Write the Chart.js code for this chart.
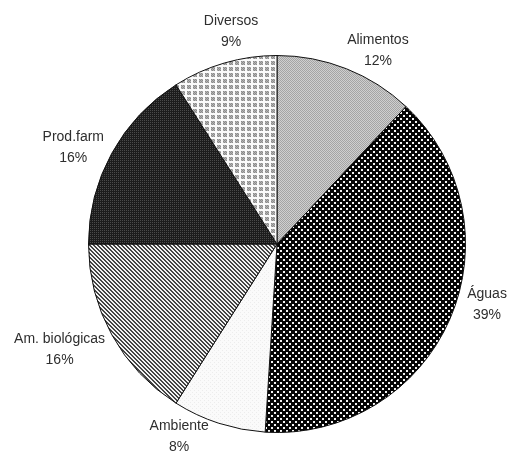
<!DOCTYPE html>
<html>
<head>
<meta charset="utf-8">
<script src="https://cdn.jsdelivr.net/npm/chart.js@4"></script>
<style>
  html, body { margin: 0; padding: 0; background: #fff; }
  #wrap { width: 508px; height: 452px; }
</style>
</head>
<body>
<div id="wrap"><canvas id="pieChart" width="508" height="452"></canvas></div>
<script>
// dados
const categorias = ['Alimentos', 'Águas', 'Ambiente', 'Am. biológicas', 'Prod.farm', 'Diversos'];
const percentagens = [12, 39, 8, 16, 16, 9];

// pequenos padrões de preenchimento (tramas)
function padrao(w, h, desenha) {
    const c = document.createElement('canvas');
    c.width = w; c.height = h;
    const g = c.getContext('2d');
    desenha(g);
    return g.createPattern(c, 'repeat');
}

const tramas = [
    // Alimentos - cinzento claro pontilhado
    padrao(2, 2, g => {
        g.fillStyle = '#cfcfcf'; g.fillRect(0, 0, 2, 2);
        g.fillStyle = '#a4a4a4'; g.fillRect(0, 0, 1, 1); g.fillRect(1, 1, 1, 1);
    }),
    // Águas - preto com pontos brancos
    padrao(6, 6, g => {
        g.fillStyle = '#050505'; g.fillRect(0, 0, 6, 6);
        g.fillStyle = '#f4f4f4'; g.fillRect(1, 1, 2, 2); g.fillRect(4, 4, 2, 2);
    }),
    // Ambiente - quase branco
    padrao(4, 4, g => {
        g.fillStyle = '#fafafa'; g.fillRect(0, 0, 4, 4);
        g.fillStyle = '#ececec'; g.fillRect(0, 0, 1, 1); g.fillRect(2, 2, 1, 1);
    }),
    // Am. biológicas - riscas diagonais
    padrao(4, 4, g => {
        g.fillStyle = '#f2f2f2'; g.fillRect(0, 0, 4, 4);
        g.fillStyle = '#444';
        for (let i = 0; i < 4; i++) { g.fillRect(i, i, 1, 1); g.fillRect((i + 1) % 4, i, 1, 1); }
    }),
    // Prod.farm - escuro
    padrao(2, 2, g => {
        g.fillStyle = '#1c1c1c'; g.fillRect(0, 0, 2, 2);
        g.fillStyle = '#4a4a4a'; g.fillRect(0, 0, 1, 1);
    }),
    // Diversos - quadrícula
    padrao(6, 6, g => {
        g.fillStyle = '#fafafa'; g.fillRect(0, 0, 6, 6);
        g.fillStyle = '#b4b4b4'; g.fillRect(1, 1, 4, 4);
        g.fillStyle = '#8a8a8a'; g.fillRect(1, 1, 1, 1); g.fillRect(3, 1, 1, 1);
        g.fillRect(2, 2, 1, 1); g.fillRect(4, 2, 1, 1);
        g.fillRect(1, 3, 1, 1); g.fillRect(3, 3, 1, 1);
        g.fillRect(2, 4, 1, 1); g.fillRect(4, 4, 1, 1);
    })
];

// ajuste de cada etiqueta: desvio angular (graus) e afastamento além do raio
const desvioAngulo = [5.9, -7.4, 9, 3, -3.4, 4];
const afastamento = [30, 30, 27, 53, 37, 29];

// etiquetas fora das fatias
const etiquetas = {
    id: 'etiquetas',
    afterDatasetsDraw(chart) {
        const ctx = chart.ctx;
        const meta = chart.getDatasetMeta(0);
        ctx.save();
        ctx.font = '14px "Liberation Sans", Arial, sans-serif';
        ctx.fillStyle = '#2e2e2e';
        ctx.textAlign = 'center';
        ctx.textBaseline = 'middle';
        meta.data.forEach((arc, i) => {
            const p = arc.getProps(['x', 'y', 'startAngle', 'endAngle', 'outerRadius'], true);
            const meio = (p.startAngle + p.endAngle) / 2 + desvioAngulo[i] * Math.PI / 180;
            const d = p.outerRadius + afastamento[i];
            const x = p.x + Math.cos(meio) * d;
            const y = p.y + Math.sin(meio) * d;
            ctx.fillText(categorias[i], x, y - 10);
            ctx.fillText(percentagens[i] + '%', x, y + 11);
        });
        ctx.restore();
    }
};

const ctx = document.getElementById('pieChart').getContext('2d');
new Chart(ctx, {
    type: 'pie',
    data: {
        labels: categorias,
        datasets: [{
            data: percentagens,
            backgroundColor: tramas,
            borderColor: '#111',
            borderWidth: 1
        }]
    },
    options: {
        responsive: false,
        animation: false,
        events: [],
        layout: { padding: { top: 55, bottom: 19, left: 88, right: 42 } },
        plugins: {
            legend: { display: false },
            tooltip: { enabled: false }
        }
    },
    plugins: [etiquetas]
});
</script>
</body>
</html>
